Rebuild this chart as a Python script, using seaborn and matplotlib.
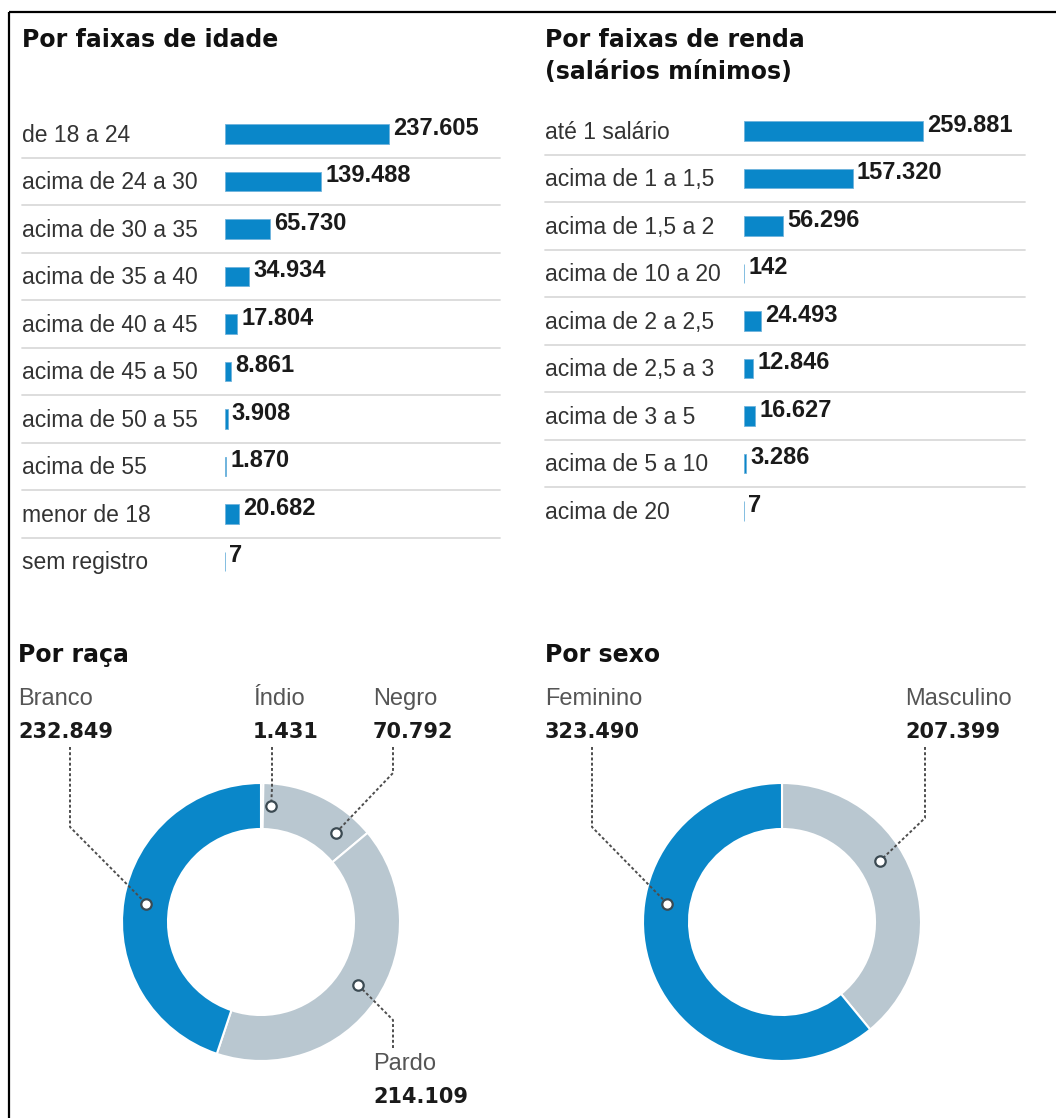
import numpy as np
import pandas as pd
import matplotlib
matplotlib.use("Agg")
import matplotlib.pyplot as plt
from matplotlib.transforms import blended_transform_factory
import seaborn as sns

# ---- data -------------------------------------------------------------
age_labels = ["de 18 a 24", "acima de 24 a 30", "acima de 30 a 35", "acima de 35 a 40",
              "acima de 40 a 45", "acima de 45 a 50", "acima de 50 a 55", "acima de 55",
              "menor de 18", "sem registro"]
age_counts = [237605, 139488, 65730, 34934, 17804, 8861, 3908, 1870, 20682, 7]

income_labels = ["até 1 salário", "acima de 1 a 1,5", "acima de 1,5 a 2", "acima de 10 a 20",
                 "acima de 2 a 2,5", "acima de 2,5 a 3", "acima de 3 a 5", "acima de 5 a 10",
                 "acima de 20"]
income_counts = [259881, 157320, 56296, 142, 24493, 12846, 16627, 3286, 7]

race_labels = ["Índio", "Negro", "Pardo", "Branco"]
race_counts = [1431, 70792, 214109, 232849]

sex_labels = ["Masculino", "Feminino"]
sex_counts = [207399, 323490]

# ---- style ------------------------------------------------------------
BLUE = "#0a87c9"
GRAY = "#b9c7d0"
RULE = "#dadada"
W, H, DPI = 1056, 1118, 100

sns.set_theme(style="white")
plt.rcParams["font.family"] = ["Liberation Sans", "DejaVu Sans"]
TITLE_FONT = ["DejaVu Sans"]

fig = plt.figure(figsize=(W / DPI, H / DPI), dpi=DPI)
fig.patch.set_facecolor("white")


def rect(left, top, width, height):
    """Axes rectangle from pixel box (origin top-left)."""
    return [left / W, 1 - (top + height) / H, width / W, height / H]


def fmt(v):
    return f"{v:,}".replace(",", ".")


SCALE = 0.00069   # pixels per person on the bar panels
ROW = 47.5        # row pitch in pixels


def bar_panel(labels, counts, left, right, label_x, first_row, rule_x0, rule_x1):
    n = len(labels)
    ax = fig.add_axes(rect(left, first_row - ROW / 2, right - left, n * ROW))
    df = pd.DataFrame({"faixa": labels, "total": counts})
    sns.barplot(data=df, x="total", y="faixa", orient="h", color=BLUE,
                saturation=1, width=0.42, errorbar=None, ax=ax,
                edgecolor="#6fb3dc", linewidth=0.6)
    ax.set_xlim(0, (right - left) / SCALE)
    ax.set_ylim(n - 0.5, -0.5)
    ax.axis("off")
    trans = blended_transform_factory(fig.transFigure, ax.transData)
    for i, (lab, v) in enumerate(zip(labels, counts)):
        ax.text(label_x / W, i + 0.03, lab, transform=trans, ha="left",
                va="center", fontsize=16.5, color="#333333")
        ax.annotate(fmt(v), xy=(v, i), xytext=(3, 4), textcoords="offset points",
                    ha="left", va="center", fontsize=17, fontweight="bold",
                    color="#1a1a1a")
    for i in range(n - 1):
        ax.plot([rule_x0 / W, rule_x1 / W], [i + 0.5, i + 0.5], transform=trans,
                color=RULE, lw=1.3, clip_on=False)
    return ax


bar_panel(age_labels, age_counts, 225, 500, 22, 134, 22, 500)
bar_panel(income_labels, income_counts, 744, 1025, 545, 131, 545, 1025)

# ---- donuts -----------------------------------------------------------
R_OUT, R_IN = 139, 93
R_MID = (R_OUT + R_IN) / 2


def donut(counts, colors, cx, cy):
    ax = fig.add_axes(rect(cx - R_OUT, cy - R_OUT, 2 * R_OUT, 2 * R_OUT))
    ax.pie(counts, colors=colors, startangle=90, counterclock=False, radius=1,
           wedgeprops=dict(width=(R_OUT - R_IN) / R_OUT, edgecolor="white",
                           linewidth=1.5))
    ax.set_xlim(-1, 1)
    ax.set_ylim(-1, 1)
    ax.set_aspect("equal")
    ax.axis("off")


RACE_C = (261, 922)
SEX_C = (782, 922)
donut(race_counts, [GRAY, GRAY, GRAY, BLUE], *RACE_C)
donut(sex_counts, [GRAY, BLUE], *SEX_C)

# ---- overlay for titles, callouts and frame (pixel coordinates) --------
ov = fig.add_axes([0, 0, 1, 1], zorder=10)
ov.set_xlim(0, W)
ov.set_ylim(H, 0)
ov.axis("off")
ov.patch.set_alpha(0)

title_kw = dict(fontsize=17, fontweight="bold", color="#111111",
                family=TITLE_FONT, va="baseline", ha="left")
ov.text(22, 47, "Por faixas de idade", **title_kw)
ov.text(545, 47, "Por faixas de renda", **title_kw)
ov.text(545, 79, "(salários mínimos)", **title_kw)
ov.text(18, 662, "Por raça", **title_kw)
ov.text(545, 662, "Por sexo", **title_kw)

# callout: (label, count, anchor angle clockwise from 12 o'clock,
#           text position, leader path from text to ring)
race_callouts = [
    ("Branco", race_counts[3], 279, (18, 705), [(70, 747), (70, 827)]),
    ("Índio", race_counts[0], 5, (253, 705), [(272, 747), (272, 788)]),
    ("Negro", race_counts[1], 40, (373, 705), [(393, 747), (393, 773)]),
    ("Pardo", race_counts[2], 123, (373, 1070), [(393, 1048), (393, 1020)]),
]
sex_callouts = [
    ("Feminino", sex_counts[1], 279, (545, 705), [(592, 747), (592, 827)]),
    ("Masculino", sex_counts[0], 58, (905, 705), [(925, 747), (925, 818)]),
]


def draw_callouts(callouts, center):
    cx, cy = center
    for name, value, ang, (tx, ty), path in callouts:
        th = np.deg2rad(ang)
        anchor = (cx + R_MID * np.sin(th), cy - R_MID * np.cos(th))
        pts = path + [anchor]
        xs, ys = zip(*pts)
        ov.plot(xs, ys, color="#4d4d4d", lw=1.4, linestyle=(0, (1.5, 1.2)),
                solid_capstyle="butt")
        ov.plot(*anchor, marker="o", ms=7.5, mfc="white", mec="#3b4a52", mew=1.6)
        ov.text(tx, ty, name, fontsize=17, color="#555555", va="baseline", ha="left")
        ov.text(tx, ty + 33, fmt(value), fontsize=15, fontweight="bold",
                family=TITLE_FONT, color="#1a1a1a", va="baseline", ha="left")


draw_callouts(race_callouts, RACE_C)
draw_callouts(sex_callouts, SEX_C)

# frame on the top and left edges
ov.plot([9, W], [12, 12], color="black", lw=1.6, solid_capstyle="butt")
ov.plot([9, 9], [12, H], color="black", lw=1.6, solid_capstyle="butt")

fig.savefig("out.png", dpi=DPI, facecolor="white")
